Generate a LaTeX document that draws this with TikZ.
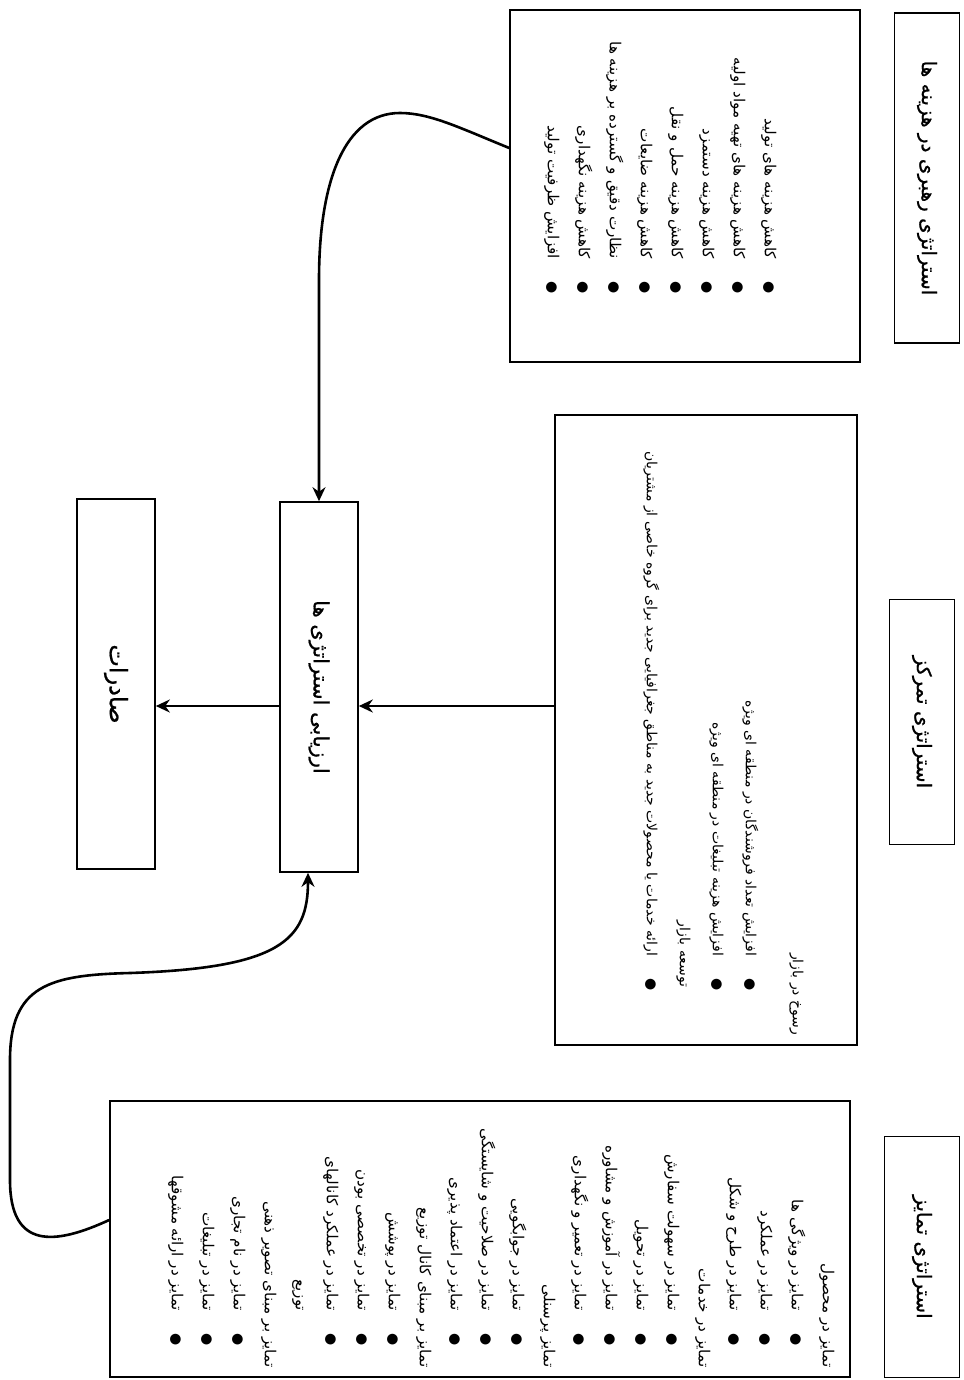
\documentclass[tikz,border=0pt]{standalone}
\usepackage{fontspec}
\usetikzlibrary{positioning,calc,arrows.meta}
\newfontfamily\fafont[Script=Arabic]{DejaVu Sans}
\newfontfamily\fatitle[Script=Arabic,FakeBold=0.8]{DejaVu Sans}
\TeXXeTstate=1
\newcommand\fbul{{\fontsize{7}{7}\selectfont ●}}
\newcommand\fitem[2][11pt]{\beginR\fbul\hspace{11pt}#2\endR\kern#1}
\newcommand\fcont[2][11pt]{\beginR\phantom{\fbul}\hspace{11pt}#2\endR\kern#1}
\newcommand\fhead[1]{\beginR #1\endR}

\begin{document}
\begin{tikzpicture}[x=0.5pt,y=0.5pt,rotate=-90,transform shape,
	box/.style={draw,line width=0.8pt,inner sep=0pt},
	title/.style={box,font=\fatitle\fontsize{10}{12}\selectfont},
	listtext/.style={inner sep=0pt,align=right,anchor=north east,font=\fafont\fontsize{7.6}{15.5}\selectfont},
	flow/.style={line width=1.3pt,-{Stealth[length=7pt,width=6.5pt]}}]
	\useasboundingbox (0,0) rectangle (1380,963);
	
	% titles
	\node[title,minimum width=165pt,minimum height=32.5pt] (costhead) at (178,927) {\fhead{استراتژی رهبری در هزینه ها}};
	\node[title,minimum width=122.5pt,minimum height=32.5pt] (focushead) at (722,922) {\fhead{استراتژی تمرکز}};
	\node[title,minimum width=120.5pt,minimum height=37.5pt] (diffhead) at (1257,922) {\fhead{استراتژی تمایز}};
	
	% content boxes
	\node[box,minimum width=176pt,minimum height=175pt] (cost) at (186,685) {};
	\node[box,minimum width=315pt,minimum height=151pt] (focus) at (730,706) {};
	\node[box,minimum width=138pt,minimum height=370pt] (diff) at (1239,480) {};
	
	\node[listtext] (costlist) at ($(cost.north east)+(-47,-84)$) {%
		\fitem{کاهش هزینه های تولید}\\
		\fitem{کاهش هزینه های تهیه مواد اولیه}\\
		\fitem{کاهش هزینه دستمزد}\\
		\fitem{کاهش هزینه حمل و نقل}\\
		\fitem{کاهش هزینه ضایعات}\\
		\fitem{نظارت دقیق و گسترده بر هزینه ها}\\
		\fitem{کاهش هزینه نگهداری}\\
		\fitem{افزایش ظرفیت تولید}};
	
	\node[listtext,font=\fafont\fontsize{7}{16.5}\selectfont] (focuslist) at ($(focus.north east)+(-10,-54)$) {%
		\fhead{رسوخ در بازار}\\[7pt]
		\fitem[22.5pt]{افزایش تعداد فروشندگان در منطقه ای ویژه}\\
		\fitem[22.5pt]{افزایش هزینه تبلیغات در منطقه ای ویژه}\\
		\fhead{توسعه بازار}\kern24pt\\
		\fitem[22.5pt]{ارائه خدمات یا محصولات جدید به مناطق جغرافیایی جدید برای گروه خاصی از مشتریان}};
	
	\node[listtext] (difflist) at ($(diff.north east)+(-10,-16)$) {%
		\fhead{تمایز در محصول}\\
		\fitem{تمایز در ویژگی ها}\\
		\fitem{تمایز در عملکرد}\\
		\fitem{تمایز در طرح و شکل}\\
		\fhead{تمایز در خدمات}\\
		\fitem{تمایز در سهولت سفارش}\\
		\fitem{تمایز در تحویل}\\
		\fitem{تمایز در آموزش و مشاوره}\\
		\fitem{تمایز در تعمیر و نگهداری}\\
		\fhead{تمایز پرسنلی}\\
		\fitem{تمایز در جوابگویی}\\
		\fitem{تمایز در صلاحیت و شایستگی}\\
		\fitem{تمایز در اعتماد پذیری}\\
		\fhead{تمایز بر مبنای کانال توزیع}\\
		\fitem{تمایز در پوشش}\\
		\fitem{تمایز در تخصصی بودن}\\
		\fitem{تمایز در عملکرد کانالهای}\\
		\fcont{توزیع}\\
		\fhead{تمایز بر مبنای تصویر ذهنی}\\
		\fitem{تمایز در نام تجاری}\\
		\fitem{تمایز در تبلیغات}\\
		\fitem{تمایز در ارائه مشوقها}};
	
	% evaluation and export
	\node[title,minimum width=185pt,minimum height=39pt,font=\fatitle\fontsize{10.5}{12}\selectfont] (eval) at (687,319) {\fhead{ارزیابی استراتژی ها}};
	\node[title,minimum width=185pt,minimum height=39pt,font=\fatitle\fontsize{12}{14}\selectfont] (exports) at (684,116) {\fhead{صادرات}};
	
	% arrows
	\coordinate (axis) at (706,0);
	\draw[flow] (focus.south -| axis) -- (eval.north -| axis);
	\draw[flow] (eval.south -| axis) -- (exports.north -| axis);
	\draw[flow] ($(cost.south)+(-38,0)$) .. controls (128,460) and (113,430) .. (113,400)
		.. controls (113,345) and (180,319) .. (280,319) -- (eval.west);
	\draw[flow] ($(diff.south)+(-19,0)$) .. controls (1245,55) and (1250,10) .. (1180,10) -- (1060,10)
		.. controls (985,10) and (975,50) .. (973,130)
		.. controls (968,280) and (940,308) .. ($(eval.east)+(0,-11)$);
\end{tikzpicture}
\end{document}
